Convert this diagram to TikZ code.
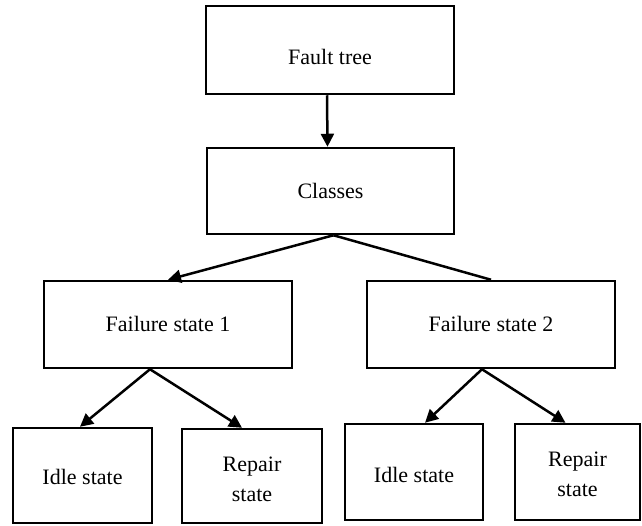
\documentclass[tikz,border=0pt]{standalone}
\usepackage{fontspec}
\setmainfont{Liberation Serif}
\usetikzlibrary{arrows.meta,calc}
\newcommand\boxtxt[2]{\raisebox{-#1}[\height][\depth]{\begin{tabular}{@{}c@{}}#2\end{tabular}}}
\begin{document}
\begin{tikzpicture}[x=1pt,y=-1pt,
  box/.style={draw=black,line width=2.5pt,rectangle,inner sep=0pt,align=center,
    font=\fontsize{22}{30}\selectfont},
  conn/.style={line width=2.5pt},
  arr/.style={conn,-{Triangle[length=13pt,width=13pt]}}]
\useasboundingbox (0,0) rectangle (642,525);
\node[box,minimum width=248pt,minimum height=88pt] (ft) at (330,50) {\boxtxt{8pt}{Fault tree}};
\node[box,minimum width=247pt,minimum height=86pt] (cl) at (330.5,191) {\boxtxt{1pt}{Classes}};
\node[box,minimum width=248pt,minimum height=87pt] (f1) at (168,324.5) {\boxtxt{1pt}{Failure state 1}};
\node[box,minimum width=248pt,minimum height=87pt] (f2) at (491,324.5) {\boxtxt{1pt}{Failure state 2}};
\node[box,minimum width=139pt,minimum height=95pt] (i1) at (82.5,475.5) {\boxtxt{3pt}{Idle state}};
\node[box,minimum width=140pt,minimum height=94pt] (r1) at (252,476) {\boxtxt{4pt}{Repair\\state}};
\node[box,minimum width=138pt,minimum height=96pt] (i2) at (414,472) {\boxtxt{4pt}{Idle state}};
\node[box,minimum width=125pt,minimum height=96pt] (r2) at (577.5,472) {\boxtxt{3pt}{Repair\\state}};
\draw[arr] ($(ft.south)+(-3,0)$) -- ($(cl.north)+(-3,0)$);
\draw[arr] ($(cl.south)+(3,0)$) -- (f1.north);
\draw[conn] ($(cl.south)+(3,0)$) -- (f2.north);
\draw[arr] ($(f1.south)+(-18,0)$) -- ($(i1.north)+(-2.5,0)$);
\draw[arr] ($(f1.south)+(-18,0)$) -- ($(r1.north)+(-10,0)$);
\draw[arr] ($(f2.south)+(-9,0)$) -- ($(i2.north)+(11,0)$);
\draw[arr] ($(f2.south)+(-9,0)$) -- ($(r2.north)+(-12,0)$);
\end{tikzpicture}
\end{document}
